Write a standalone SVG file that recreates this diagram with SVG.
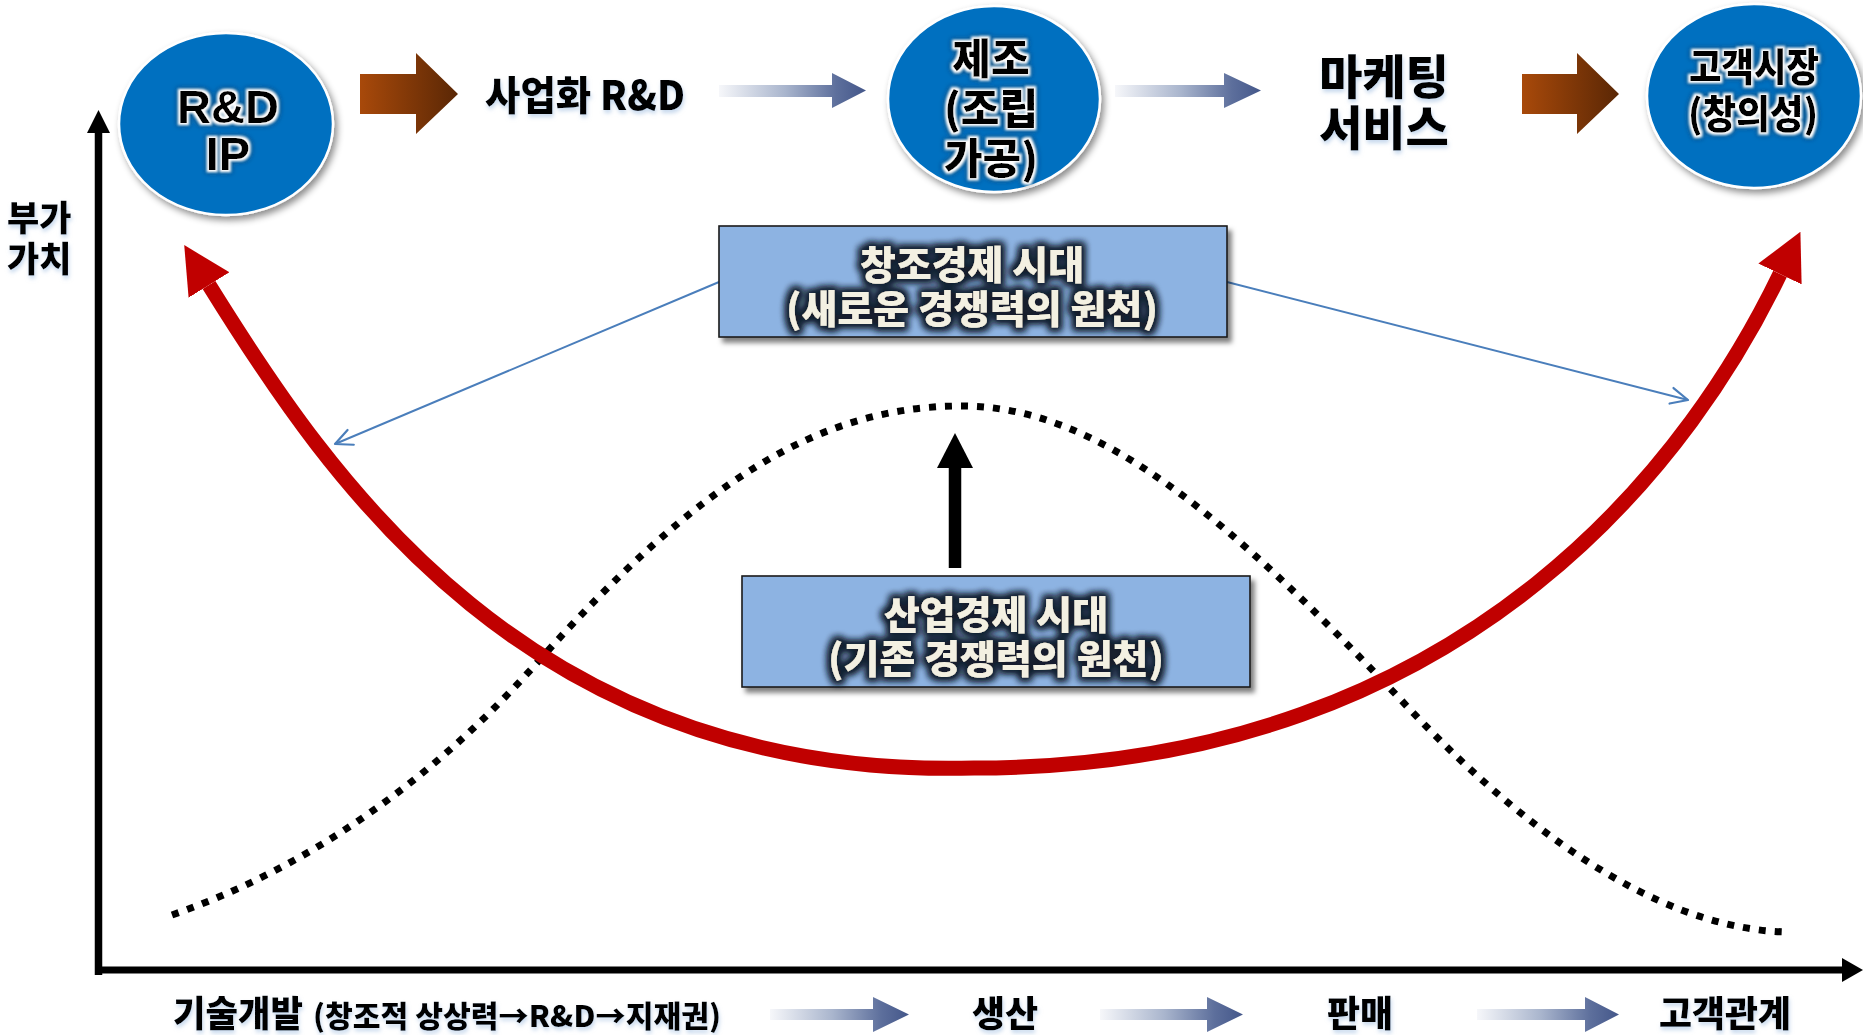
<svg xmlns="http://www.w3.org/2000/svg" width="1863" height="1035" viewBox="0 0 1863 1035">
<style>
.kr{font-family:"Noto Sans CJK KR","Noto Sans CJK SC",sans-serif;font-weight:900}
.lat{font-family:"Liberation Sans",Arial,sans-serif;font-weight:700}
.lbl{fill:#000;filter:url(#lshadow)}
.ctext{fill:#000;filter:url(#wglow)}
.btext{fill:#F3F0E2;filter:url(#dglow);font-size:39px}
.circ{fill:#0070C0;stroke:#fff;stroke-width:2.5;filter:url(#shadow)}
.box{fill:#8DB3E2;stroke:#1b1b1b;stroke-width:1.6;filter:url(#bshadow)}
.thin{fill:none;stroke:#4A7EBB;stroke-width:2;marker-end:url(#open)}
.barrow{fill:url(#gblue)}
.brarrow{fill:url(#gbrown)}
</style>
<defs>
<linearGradient id="gblue" x1="0" y1="0" x2="1" y2="0">
<stop offset="0" stop-color="#f6f7fa"/>
<stop offset="0.45" stop-color="#a9b5cd"/>
<stop offset="0.8" stop-color="#5d6f9c"/>
<stop offset="1" stop-color="#44578a"/>
</linearGradient>
<linearGradient id="gbrown" x1="0" y1="0" x2="1" y2="0">
<stop offset="0" stop-color="#A8490A"/>
<stop offset="1" stop-color="#5A2705"/>
</linearGradient>
<filter id="shadow" x="-20%" y="-20%" width="150%" height="150%">
<feDropShadow dx="3" dy="4" stdDeviation="3.5" flood-color="#000" flood-opacity="0.45"/>
</filter>
<filter id="bshadow" x="-10%" y="-20%" width="120%" height="150%">
<feDropShadow dx="4" dy="5" stdDeviation="2.5" flood-color="#000" flood-opacity="0.5"/>
</filter>
<filter id="wglow" x="-20%" y="-30%" width="140%" height="160%">
<feMorphology in="SourceAlpha" operator="dilate" radius="3" result="d2"/>
<feGaussianBlur in="d2" stdDeviation="2.5" result="b2"/>
<feFlood flood-color="#2a2a3a" flood-opacity="0.55"/>
<feComposite in2="b2" operator="in" result="g2"/>
<feMorphology in="SourceAlpha" operator="dilate" radius="2" result="d"/>
<feGaussianBlur in="d" stdDeviation="0.8" result="b"/>
<feFlood flood-color="#ffffff"/>
<feComposite in2="b" operator="in" result="g"/>
<feMerge><feMergeNode in="g2"/><feMergeNode in="g"/><feMergeNode in="SourceGraphic"/></feMerge>
</filter>
<filter id="dglow" x="-20%" y="-40%" width="140%" height="180%">
<feMorphology in="SourceAlpha" operator="dilate" radius="3" result="d"/>
<feGaussianBlur in="d" stdDeviation="3.5" result="b"/>
<feFlood flood-color="#14202e" flood-opacity="0.95"/>
<feComposite in2="b" operator="in" result="g"/>
<feMerge><feMergeNode in="g"/><feMergeNode in="g"/><feMergeNode in="SourceGraphic"/></feMerge>
</filter>
<filter id="lshadow" x="-10%" y="-20%" width="120%" height="160%">
<feGaussianBlur in="SourceAlpha" stdDeviation="2" result="b"/>
<feOffset in="b" dx="1" dy="3" result="o"/>
<feFlood flood-color="#9fbde0" flood-opacity="0.6"/>
<feComposite in2="o" operator="in" result="g"/>
<feMerge><feMergeNode in="g"/><feMergeNode in="SourceGraphic"/></feMerge>
</filter>
<marker id="redhead" markerUnits="userSpaceOnUse" viewBox="0 -24 47 48" markerWidth="47" markerHeight="48" refX="0" refY="0" orient="auto-start-reverse">
<path d="M0,-24 L47,0 L0,24 Z" fill="#C00000"/>
</marker>
<marker id="open" markerUnits="userSpaceOnUse" viewBox="-20 -11 22 22" markerWidth="22" markerHeight="22" refX="0" refY="0" orient="auto">
<path d="M-17,-8 L0,0 L-17,8" fill="none" stroke="#4A7EBB" stroke-width="2.2" stroke-linecap="round" stroke-linejoin="round"/>
</marker>
</defs>
<rect width="1863" height="1035" fill="#fff"/>

<g id="connectors">
<path d="M98.5,975 L98.5,132" stroke="#000" stroke-width="7.5" fill="none"/>
<path d="M87,133 L98.5,110 L110,133 Z" fill="#000"/>
<path d="M95,970 L1844,970" stroke="#000" stroke-width="7" fill="none"/>
<path d="M1842,958 L1863,970 L1842,982 Z" fill="#000"/>
<path d="M172,915 C330,860 450,760 535,665 C700,480 820,406 962,406 C1100,406 1230,520 1402,701 C1550,860 1680,930 1788,932" fill="none" stroke="#000" stroke-width="7" stroke-dasharray="7 9"/>
<path d="M209,285 C330,480 530,780 974,768 C1480,768 1700,440 1780,274" fill="none" stroke="#C00000" stroke-width="15" marker-start="url(#redhead)" marker-end="url(#redhead)"/>
<path class="thin" d="M719,282 L335,444"/>
<path class="thin" d="M1227,282 L1688,400"/>
<path d="M955,568 L955,466" stroke="#000" stroke-width="12.5" fill="none"/>
<path d="M937,468 L955,433 L973,468 Z" fill="#000"/>
<path class="brarrow" d="M360,74 L416,74 L416,53 L458,94 L416,134 L416,114 L360,114 Z"/>
<path class="brarrow" d="M1522,74 L1577,74 L1577,53 L1619,94 L1577,134 L1577,114 L1522,114 Z"/>
<path class="barrow" d="M719,85 L832,85 L832,73 L866,90.5 L832,108 L832,97 L719,97 Z"/>
<path class="barrow" d="M1115,85 L1224,85 L1224,73 L1261,90.5 L1224,108 L1224,97 L1115,97 Z"/>
<path class="barrow" d="M770,1009 L873,1009 L873,997 L909,1014.5 L873,1032 L873,1020 L770,1020 Z"/>
<path class="barrow" d="M1100,1009 L1207,1009 L1207,997 L1243,1014.5 L1207,1032 L1207,1020 L1100,1020 Z"/>
<path class="barrow" d="M1477,1009 L1585,1009 L1585,997 L1619,1014.5 L1585,1032 L1585,1020 L1477,1020 Z"/>
</g>

<g id="node-rdip">
<ellipse class="circ" cx="226" cy="124" rx="107" ry="91"/>
<text class="lat ctext" font-size="47" text-anchor="middle"><tspan x="228" y="123">R&amp;D</tspan><tspan x="228" y="170">IP</tspan></text>
</g>

<g id="node-biz-rd">
<text class="kr lbl" x="485" y="110" font-size="40" textLength="200" lengthAdjust="spacingAndGlyphs">사업화 R&amp;D</text>
</g>

<g id="node-manufacture">
<ellipse class="circ" cx="994" cy="99" rx="106" ry="93"/>
<text class="kr ctext" font-size="42" text-anchor="middle"><tspan x="991" y="74">제조</tspan><tspan x="991" y="124">(조립</tspan><tspan x="991" y="174">가공)</tspan></text>
</g>

<g id="node-marketing">
<text class="kr lbl" font-size="47" text-anchor="middle"><tspan x="1384" y="94">마케팅</tspan><tspan x="1384" y="145">서비스</tspan></text>
</g>

<g id="node-market">
<ellipse class="circ" cx="1754" cy="96" rx="107" ry="92"/>
<text class="kr ctext" x="1689" y="81" font-size="39" textLength="130" lengthAdjust="spacingAndGlyphs">고객시장</text>
<text class="kr ctext" x="1688" y="128" font-size="39" textLength="130" lengthAdjust="spacingAndGlyphs">(창의성)</text>
</g>

<g id="node-yaxis-label">
<text class="kr lbl" font-size="35"><tspan x="7" y="231">부가</tspan><tspan x="7" y="272">가치</tspan></text>
</g>

<g id="node-creative-era">
<rect class="box" x="719" y="226" width="508" height="111"/>
<text class="kr btext" text-anchor="middle"><tspan x="972" y="279">창조경제 시대</tspan><tspan x="972" y="323">(새로운 경쟁력의 원천)</tspan></text>
</g>

<g id="node-industrial-era">
<rect class="box" x="742" y="576" width="508" height="111"/>
<text class="kr btext" text-anchor="middle"><tspan x="996" y="629">산업경제 시대</tspan><tspan x="996" y="673">(기존 경쟁력의 원천)</tspan></text>
</g>

<g id="node-bottom-labels">
<text class="kr lbl" x="173" y="1027" font-size="36" textLength="130" lengthAdjust="spacingAndGlyphs">기술개발</text>
<text class="kr lbl" x="313" y="1027" font-size="30" textLength="408" lengthAdjust="spacingAndGlyphs">(창조적 상상력→R&amp;D→지재권)</text>
<text class="kr lbl" x="1005" y="1027" font-size="36" text-anchor="middle">생산</text>
<text class="kr lbl" x="1360" y="1027" font-size="36" text-anchor="middle">판매</text>
<text class="kr lbl" x="1659" y="1027" font-size="36" textLength="132" lengthAdjust="spacingAndGlyphs">고객관계</text>
</g>
</svg>
